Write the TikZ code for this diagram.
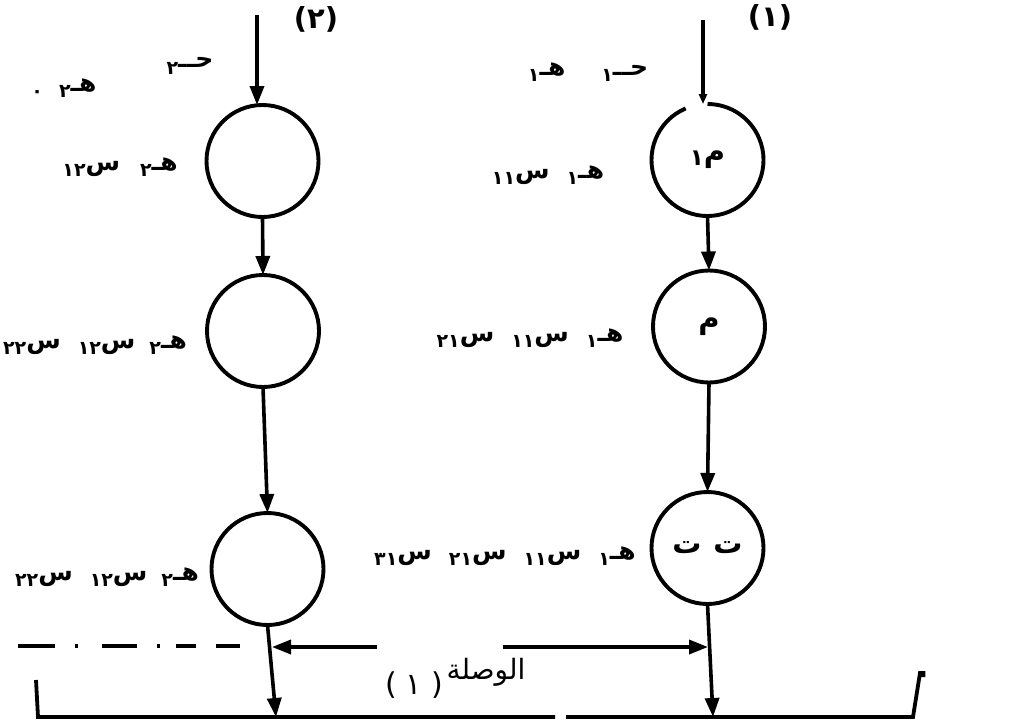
\documentclass[tikz,border=0pt]{standalone}
\usepackage{fontspec}
\newfontfamily\ar[Script=Arabic]{DejaVu Sans}
\newfontfamily\lat{DejaVu Sans}
\usetikzlibrary{arrows.meta}
\newcommand{\sbd}[1]{\raisebox{-0.45ex}{\fontsize{19}{19}\selectfont #1}}
\begin{document}
\begin{tikzpicture}[x=1pt,y=-1pt,
  ring/.style={circle,draw,line width=3.9pt,minimum size=112pt,inner sep=0pt,outer sep=0pt,font=\ar\bfseries\fontsize{29}{29}\selectfont},
  ringopen/.style={ring,draw=none},
  flow/.style={line width=3.6pt,-{Triangle[length=19pt,width=14pt]}},
  flowsmall/.style={line width=3.6pt,-{Triangle[length=10pt,width=8pt]}},
  base/.style={line width=3.8pt},
  lbl/.style={font=\ar\bfseries\fontsize{25}{28}\selectfont,inner sep=0pt},
  num/.style={font=\lat\bfseries\fontsize{29}{29}\selectfont,inner sep=0pt}]
\useasboundingbox (0,0) rectangle (1033,720);

% circles
\node[ring] (A1) at (262.5,161) {};
\node[ring] (A2) at (263,331) {};
\node[ring] (A3) at (267.5,569) {};
\node[ringopen] (B1) at (707.5,160) {\raisebox{-4pt}{\fontsize{23}{23}\selectfont ١}م};
\draw[line width=3.9pt] (B1.113) arc[start angle=-113, end angle=-450, radius=56];
\node[ring] (B2) at (709,326.5) {م};
\node[ring] (B3) at (707.5,548) {ت\hspace{12pt}ت};

% inputs
\coordinate (inA) at (257,15);
\coordinate (inB) at (703,20);
\draw[flow] (inA) -- (inA |- A1.north);
\draw[flowsmall] (inB) -- (inB |- B1.north);

% flows between circles
\draw[flow] (A1.south) -- (A2.north);
\draw[flow] (A2.south) -- (A3.north);
\draw[flow] (B1.south) -- (B2.north);
\draw[flow] (B2.south) -- (B3.north);
\coordinate (baseA) at (276,717);
\coordinate (baseB) at (713,717);
\draw[flow] (A3.south) -- (baseA);
\draw[flow] (B3.south) -- (baseB);

% horizontal arrows
\coordinate (hA) at (377,647);
\coordinate (jA) at (272,647);
\coordinate (hB) at (503,647);
\coordinate (jB) at (708,647);
\draw[flow] (hA) -- (jA);
\draw[flow] (hB) -- (jB);

% dash-dot line
\coordinate (dl) at (18,646);
\coordinate (dr) at (242,646);
\draw[line width=3.6pt,dash pattern=on 37pt off 20pt on 3pt off 24pt on 35pt off 20pt on 3pt off 16pt on 20pt off 20pt on 24pt] (dl) -- (dr);

% base
\coordinate (wl) at (36,680);
\coordinate (bl) at (38,717);
\coordinate (g1) at (555,717);
\coordinate (g2) at (566,717);
\coordinate (br) at (913,717);
\coordinate (wr) at (920,673);
\draw[base] (wl) -- (bl) -- (g1);
\draw[base] (g2) -- (br) -- (wr) -- ++(3.5,0) -- ++(0,4);

% labels
\node[num] (n2) at (316,19) {(٢)};
\node[num] (n1) at (770,17) {(١)};
\node[lbl] (tA) at (190,66) {\sbd{٢}حــ};
\node[lbl] (hA0) at (64,88) {\sbd{٠}\hspace{16pt}\sbd{٢}هـ};
\node[lbl] (lA1) at (120,167) {\sbd{١٢}س\hspace{20pt}\sbd{٢}هـ};
\node[lbl] (lA2) at (95,345) {\sbd{٢٢}س\hspace{17pt}\sbd{١٢}س\hspace{14pt}\sbd{٢}هـ};
\node[lbl] (lA3) at (107,577) {\sbd{٢٢}س\hspace{17pt}\sbd{١٢}س\hspace{14pt}\sbd{٢}هـ};
\node[lbl] (tB) at (588,72) {\sbd{١}هـ\hspace{36pt}\sbd{١}حــ};
\node[lbl] (lB1) at (548,175) {\sbd{١١}س\hspace{17pt}\sbd{١}هـ};
\node[lbl] (lB2) at (530,338) {\sbd{٢١}س\hspace{17pt}\sbd{١١}س\hspace{17pt}\sbd{١}هـ};
\node[lbl] (lB3) at (505,556) {\sbd{٣١}س\hspace{17pt}\sbd{٢١}س\hspace{17pt}\sbd{١١}س\hspace{17pt}\sbd{١}هـ};
\node[font=\lat\fontsize{30}{30}\selectfont,inner sep=0pt] (connN) at (414,685) {(\hspace{9pt}١\hspace{9pt})};
\node[font=\ar\fontsize{28}{30}\selectfont,inner sep=0pt] (conn) at (486,672) {الوصلة};
\end{tikzpicture}
\end{document}
